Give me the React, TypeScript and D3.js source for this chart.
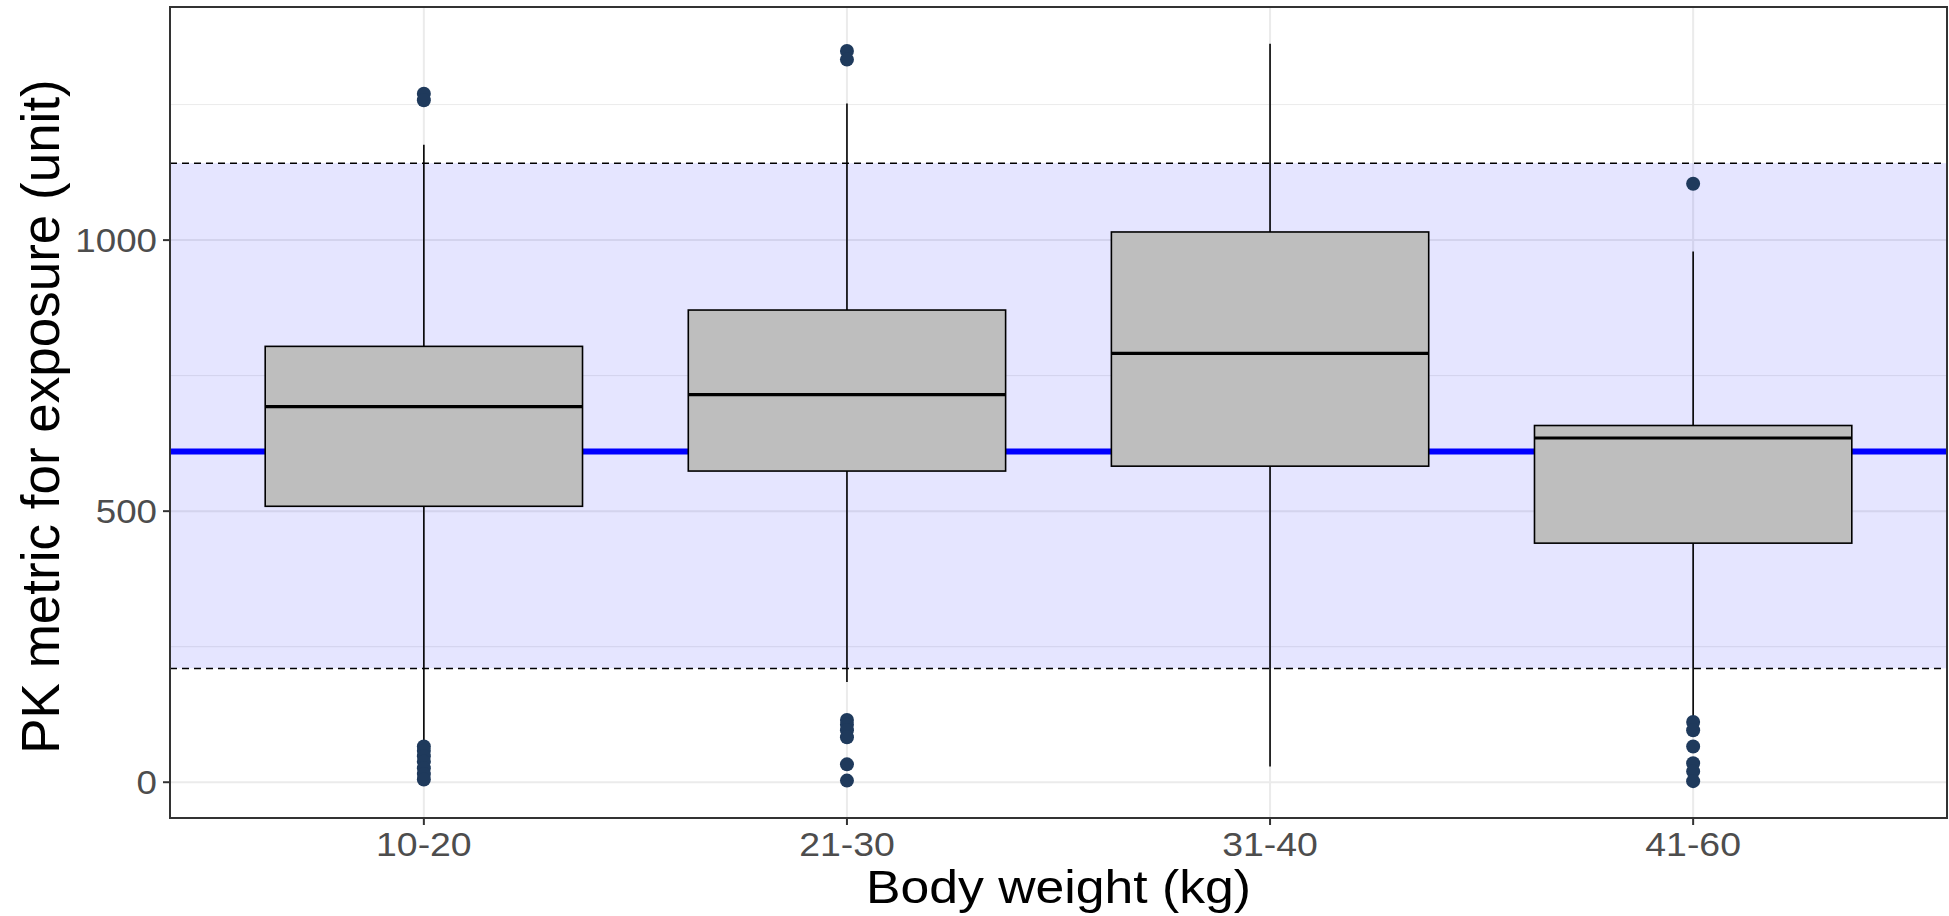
import React from "react";
import * as d3 from "d3";

// Body-weight groups and the five-number summaries of the exposure metric
const categories = ["10-20", "21-30", "31-40", "41-60"];
const q1Values = [509, 574, 583, 441];
const medianValues = [693, 715, 791, 635];
const q3Values = [804, 871, 1015, 658];
const whiskerLow = [73, 185, 29, 121];
const whiskerHigh = [1176, 1252, 1362, 979];
const outliers = [
  [1270, 1258, 66, 58, 48, 38, 26, 15, 5],
  [1349, 1333, 115, 106, 96, 83, 33, 3],
  [],
  [1104, 111, 96, 66, 35, 20, 2],
];

// Reference exposure and its acceptance band
const referenceValue = 610;
const bandLow = 210;
const bandHigh = 1142;

const yTicks = [0, 500, 1000];
const yMinorTicks = [250, 750, 1250];

const W = 1949;
const H = 916;
const panel = { left: 170, right: 1947, top: 7, bottom: 818 };
const FONT = "'Liberation Sans', Arial, Helvetica, sans-serif";

export default function App() {
  const allValues = [
    ...whiskerLow,
    ...whiskerHigh,
    ...outliers.flat(),
  ];
  const lo = d3.min(allValues) as number;
  const hi = d3.max(allValues) as number;
  const pad = (hi - lo) * 0.05;

  const y = d3
    .scaleLinear()
    .domain([lo - pad, hi + pad])
    .range([panel.bottom, panel.top]);

  const x = d3
    .scalePoint<string>()
    .domain(categories)
    .range([panel.left, panel.right])
    .padding(0.6);

  const boxW = x.step() * 0.75;
  const pw = panel.right - panel.left;
  const ph = panel.bottom - panel.top;

  return (
    <svg
      width={W}
      height={H}
      style={{ position: "absolute", left: 0, top: 0, background: "#fff" }}
    >
      <rect x={0} y={0} width={W} height={H} fill="#fff" />

      {/* grid */}
      {yMinorTicks.map((t) => (
        <line
          key={"mn" + t}
          x1={panel.left}
          x2={panel.right}
          y1={y(t)}
          y2={y(t)}
          stroke="#EBEBEB"
          strokeWidth={1}
        />
      ))}
      {yTicks.map((t) => (
        <line
          key={"mj" + t}
          x1={panel.left}
          x2={panel.right}
          y1={y(t)}
          y2={y(t)}
          stroke="#EBEBEB"
          strokeWidth={2}
        />
      ))}
      {categories.map((c) => (
        <line
          key={"vx" + c}
          x1={x(c)}
          x2={x(c)}
          y1={panel.top}
          y2={panel.bottom}
          stroke="#EBEBEB"
          strokeWidth={2}
        />
      ))}

      {/* acceptance band */}
      <rect
        x={panel.left}
        width={pw}
        y={y(bandHigh)}
        height={y(bandLow) - y(bandHigh)}
        fill="blue"
        fillOpacity={0.1}
      />
      {[bandLow, bandHigh].map((v) => (
        <line
          key={"d" + v}
          x1={panel.left}
          x2={panel.right}
          y1={y(v)}
          y2={y(v)}
          stroke="#000"
          strokeWidth={1.5}
          strokeDasharray="7,5"
        />
      ))}
      <line
        x1={panel.left}
        x2={panel.right}
        y1={y(referenceValue)}
        y2={y(referenceValue)}
        stroke="#0000FF"
        strokeWidth={6}
      />

      {/* boxplots */}
      {categories.map((c, i) => {
        const cx = x(c) as number;
        return (
          <g key={"b" + c}>
            <line
              x1={cx}
              x2={cx}
              y1={y(q3Values[i])}
              y2={y(whiskerHigh[i])}
              stroke="#000"
              strokeWidth={1.6}
            />
            <line
              x1={cx}
              x2={cx}
              y1={y(q1Values[i])}
              y2={y(whiskerLow[i])}
              stroke="#000"
              strokeWidth={1.6}
            />
            <rect
              x={cx - boxW / 2}
              width={boxW}
              y={y(q3Values[i])}
              height={y(q1Values[i]) - y(q3Values[i])}
              fill="#BEBEBE"
              stroke="#000"
              strokeWidth={1.6}
            />
            <line
              x1={cx - boxW / 2}
              x2={cx + boxW / 2}
              y1={y(medianValues[i])}
              y2={y(medianValues[i])}
              stroke="#000"
              strokeWidth={3.2}
            />
            {outliers[i].map((v, k) => (
              <circle
                key={k}
                cx={cx}
                cy={y(v)}
                r={7}
                fill="#1F3A5C"
              />
            ))}
          </g>
        );
      })}

      {/* panel border */}
      <rect
        x={panel.left}
        y={panel.top}
        width={pw}
        height={ph}
        fill="none"
        stroke="#333333"
        strokeWidth={2}
      />

      {/* y axis */}
      {yTicks.map((t) => (
        <g key={"yt" + t}>
          <line
            x1={panel.left - 7}
            x2={panel.left}
            y1={y(t)}
            y2={y(t)}
            stroke="#333333"
            strokeWidth={2}
          />
          <text
            transform={`translate(${panel.left - 13},${y(t) + 12}) scale(1.08,1)`}
            textAnchor="end"
            fontFamily={FONT}
            fontSize={34}
            fill="#4D4D4D"
          >
            {t}
          </text>
        </g>
      ))}

      {/* x axis */}
      {categories.map((c) => (
        <g key={"xt" + c}>
          <line
            x1={x(c)}
            x2={x(c)}
            y1={panel.bottom}
            y2={panel.bottom + 7}
            stroke="#333333"
            strokeWidth={2}
          />
          <text
            transform={`translate(${x(c)},${panel.bottom + 38}) scale(1.1,1)`}
            textAnchor="middle"
            fontFamily={FONT}
            fontSize={34}
            fill="#4D4D4D"
          >
            {c}
          </text>
        </g>
      ))}

      {/* axis titles */}
      <text
        transform={`translate(${(panel.left + panel.right) / 2},903) scale(1.1,1)`}
        textAnchor="middle"
        fontFamily={FONT}
        fontSize={47}
        fill="#000"
      >
        Body weight (kg)
      </text>
      <text
        transform={`translate(59,${(panel.top + panel.bottom) / 2 + 4}) rotate(-90)`}
        textAnchor="middle"
        fontFamily={FONT}
        fontSize={53}
        fill="#000"
      >
        PK metric for exposure (unit)
      </text>
    </svg>
  );
}
